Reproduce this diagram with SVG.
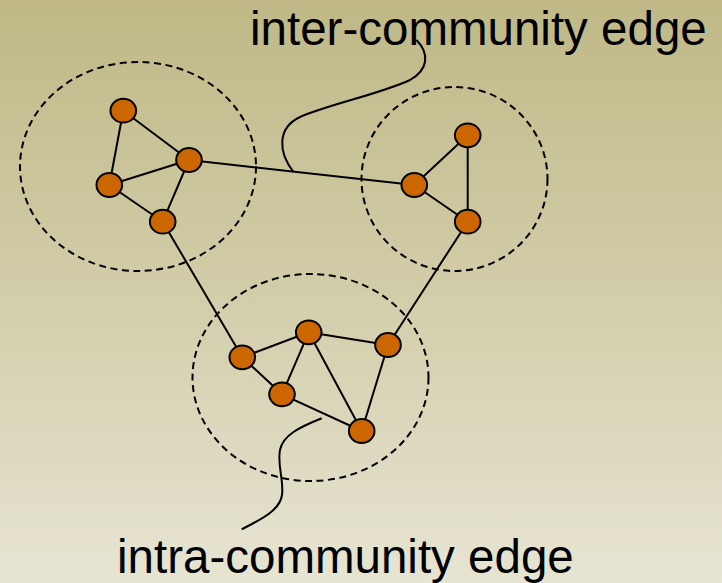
<svg xmlns="http://www.w3.org/2000/svg" width="722" height="583" viewBox="0 0 722 583">
  <defs>
    <linearGradient id="bg" x1="0" y1="0" x2="0" y2="1">
      <stop offset="0" stop-color="#bfb886"/>
      <stop offset="0.5" stop-color="#d2cda9"/>
      <stop offset="1" stop-color="#e7e4d3"/>
    </linearGradient>
  </defs>
  <style>
    .community { fill: none; stroke: #000; stroke-width: 2; stroke-dasharray: 7 4.5; }
    .edge { stroke: #000; stroke-width: 2; fill: none; }
    .callout { stroke: #000; stroke-width: 2; fill: none; }
    .node ellipse { fill: #cc6600; stroke: #000; stroke-width: 2; }
    .label { font-family: "Liberation Sans", Arial, sans-serif; font-size: 47.5px; fill: #000; }
  </style>

  <rect width="722" height="583" fill="url(#bg)"/>

  <!-- community boundaries -->
  <g id="communities">
    <ellipse class="community" cx="138" cy="166.5" rx="118" ry="104.5"/>
    <ellipse class="community" cx="454.5" cy="179" rx="93" ry="92"/>
    <ellipse class="community" cx="310.5" cy="377.5" rx="118" ry="103.5"/>
  </g>

  <!-- edges -->
  <g id="edges">
    <line class="edge" x1="123.3" y1="110.7" x2="189" y2="160"/>
    <line class="edge" x1="123.3" y1="110.7" x2="109.3" y2="185"/>
    <line class="edge" x1="109.3" y1="185" x2="189" y2="160"/>
    <line class="edge" x1="109.3" y1="185" x2="162.7" y2="221.7"/>
    <line class="edge" x1="189" y1="160" x2="162.7" y2="221.7"/>
    <line class="edge" x1="189" y1="160" x2="414.3" y2="185"/>
    <line class="edge" x1="162.7" y1="221.7" x2="242.3" y2="357.3"/>
    <line class="edge" x1="467.7" y1="135.3" x2="414.3" y2="185"/>
    <line class="edge" x1="467.7" y1="135.3" x2="467.7" y2="221.7"/>
    <line class="edge" x1="414.3" y1="185" x2="467.7" y2="221.7"/>
    <line class="edge" x1="467.7" y1="221.7" x2="388" y2="345"/>
    <line class="edge" x1="242.3" y1="357.3" x2="308.7" y2="332.3"/>
    <line class="edge" x1="242.3" y1="357.3" x2="282" y2="394.3"/>
    <line class="edge" x1="308.7" y1="332.3" x2="282" y2="394.3"/>
    <line class="edge" x1="308.7" y1="332.3" x2="388" y2="345"/>
    <line class="edge" x1="308.7" y1="332.3" x2="361.7" y2="431"/>
    <line class="edge" x1="282" y1="394.3" x2="361.7" y2="431"/>
    <line class="edge" x1="388" y1="345" x2="361.7" y2="431"/>
  </g>

  <!-- label pointers -->
  <g id="callouts">
    <path class="callout" d="M416.5,40 C430,54 428,70 410,80 C380,94 330,104 300,117 C277,128 278,152 293.5,172"/>
    <path class="callout" d="M321.7,418.3 C300,427 283,435 280,450 C277,465 284,480 282,495 C280,510 262,519 241.7,529.3"/>
  </g>

  <!-- nodes -->
  <g id="n1" class="node"><ellipse cx="123.3" cy="110.7" rx="12.8" ry="11.9"/></g>
  <g id="n2" class="node"><ellipse cx="189" cy="160" rx="12.8" ry="11.9"/></g>
  <g id="n3" class="node"><ellipse cx="109.3" cy="185" rx="12.8" ry="11.9"/></g>
  <g id="n4" class="node"><ellipse cx="162.7" cy="221.7" rx="12.8" ry="11.9"/></g>
  <g id="n5" class="node"><ellipse cx="467.7" cy="135.3" rx="12.8" ry="11.9"/></g>
  <g id="n6" class="node"><ellipse cx="414.3" cy="185" rx="12.8" ry="11.9"/></g>
  <g id="n7" class="node"><ellipse cx="467.7" cy="221.7" rx="12.8" ry="11.9"/></g>
  <g id="n8" class="node"><ellipse cx="242.3" cy="357.3" rx="12.8" ry="11.9"/></g>
  <g id="n9" class="node"><ellipse cx="308.7" cy="332.3" rx="12.8" ry="11.9"/></g>
  <g id="n10" class="node"><ellipse cx="388" cy="345" rx="12.8" ry="11.9"/></g>
  <g id="n11" class="node"><ellipse cx="282" cy="394.3" rx="12.8" ry="11.9"/></g>
  <g id="n12" class="node"><ellipse cx="361.7" cy="431" rx="12.8" ry="11.9"/></g>

  <!-- labels -->
  <g id="label-inter"><text class="label" x="250" y="45">inter-community edge</text></g>
  <g id="label-intra"><text class="label" x="117" y="573">intra-community edge</text></g>
</svg>
